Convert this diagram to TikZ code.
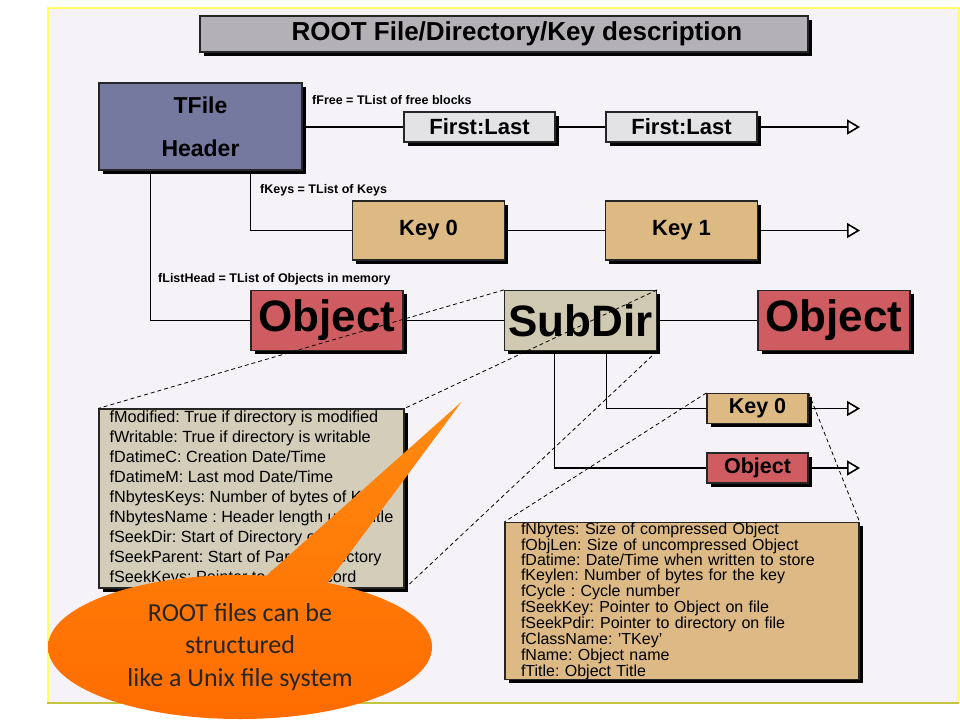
\documentclass[tikz,border=0pt]{standalone}
\usepackage{fontspec}
\setmainfont{Liberation Sans}
\newfontfamily\calloutfont{Carlito}
\frenchspacing
\usetikzlibrary{arrows.meta}
\usetikzlibrary{shadows}

\definecolor{slidebg}{HTML}{F5F3F7}
\definecolor{slideedge}{HTML}{FFFF66}
\definecolor{slidefoot}{HTML}{C4C440}
\definecolor{titlegray}{HTML}{B4B1B6}
\definecolor{filecolor}{HTML}{7579A0}
\definecolor{freecolor}{HTML}{E3E3E5}
\definecolor{keycolor}{HTML}{DDBA84}
\definecolor{objcolor}{HTML}{CE5C61}
\definecolor{dircolor}{HTML}{D1CAB3}
\definecolor{dirinfocolor}{HTML}{D3CDBA}
\definecolor{keyinfocolor}{HTML}{DCB985}
\definecolor{calloutA}{HTML}{FF8A10}
\definecolor{calloutB}{HTML}{FF6C00}

\tikzset{
  box/.style={draw=black!85, line width=1.2pt, inner sep=0pt,
    drop shadow={shadow xshift=3.5pt, shadow yshift=-3.5pt, opacity=1, fill=black}},
  freebox/.style={box, fill=freecolor, minimum width=151pt, minimum height=30pt,
    font=\bfseries\fontsize{22}{26}\selectfont},
  keybox/.style={box, fill=keycolor, minimum width=152pt, minimum height=59pt,
    font=\bfseries\fontsize{22}{26}\selectfont},
  bigbox/.style={box, minimum width=152pt, minimum height=60pt,
    font=\bfseries\fontsize{44}{48}\selectfont},
  smallbox/.style={box, minimum width=101pt, minimum height=30pt,
    font=\bfseries\fontsize{21.5}{24}\selectfont},
  infobox/.style={box, align=left},
  tag/.style={anchor=west, inner sep=0pt, font=\bfseries\fontsize{12.5}{14}\selectfont},
  link/.style={line width=1.6pt},
  tail/.style={link, -{Triangle[length=13pt,width=15pt,fill=white]}},
  zoomline/.style={line width=0.8pt, dash pattern=on 4pt off 3pt},
}

\begin{document}
\begin{tikzpicture}[x=1pt,y=-1pt]
  \useasboundingbox (0,0) rectangle (960,720);
  \fill[white] (0,0) rectangle (960,720);
  \filldraw[fill=slidebg, draw=slideedge, line width=2pt] (48,8) rectangle (958,703);
  \draw[slidefoot, line width=2.5pt] (47,703) -- (959,703);

  \node[box, fill=titlegray, minimum width=608pt, minimum height=36pt,
    font=\bfseries\fontsize{26}{30}\selectfont] (title) at (504,34)
    {\hspace*{26pt}ROOT File/Directory/Key description};

  \node[box, fill=filecolor, minimum width=203pt, minimum height=87pt, align=center,
    font=\bfseries\fontsize{23}{43}\selectfont] (tfile) at (200.5,126.5) {TFile\\Header};

  \node[freebox] (free1) at (479.5,127) {First:Last};
  \node[freebox] (free2) at (681.5,127) {First:Last};
  \node[keybox] (key0) at (428.5,230.5) {Key 0};
  \node[keybox] (key1) at (681.5,230.5) {Key 1};
  \node[bigbox, fill=objcolor] (obj) at (327,320.5) {Object};
  \node[bigbox, fill=dircolor] (subdir) at (580.5,320.5) {SubDir};
  \node[bigbox, fill=objcolor] (obj2) at (834,320.5) {Object};
  \node[smallbox, fill=keycolor] (skey) at (757.5,408.5) {Key 0};
  \node[smallbox, fill=objcolor] (sobj) at (757.5,468) {Object};

  \node[tag] (freetag) at (312,100) {fFree = TList of free blocks};
  \node[tag] (keystag) at (260,190) {fKeys = TList of Keys};
  \node[tag] (listtag) at (158,279) {fListHead = TList of Objects in memory};

  \coordinate (freeend) at (860,127);
  \coordinate (keyend) at (860,230.5);
  \coordinate (skeyend) at (860,408.5);
  \coordinate (sobjend) at (860,468);

  \draw[link] (tfile.east |- free1.west) -- (free1.west);
  \draw[link] (free1) -- (free2);
  \draw[tail] (free2) -- (freeend);
  \draw[link] ([xshift=50pt]tfile.south) |- (key0.west);
  \draw[link] (key0) -- (key1);
  \draw[tail] (key1) -- (keyend);
  \draw[link] ([xshift=-50pt]tfile.south) |- (obj.west);
  \draw[link] (obj) -- (subdir);
  \draw[link] (subdir) -- (obj2);
  \draw[link] ([xshift=26pt]subdir.south) |- (skey.west);
  \draw[link] ([xshift=-26pt]subdir.south) |- (sobj.west);
  \draw[tail] (skey) -- (skeyend);
  \draw[tail] (sobj) -- (sobjend);

  \node[infobox, fill=dirinfocolor, minimum width=305pt, minimum height=179pt,
    font=\fontsize{16.2}{20}\selectfont] (dirinfo) at (251.5,498.5)
    {fModified: True if directory is modified\\
     fWritable: True if directory is writable\\
     fDatimeC: Creation Date/Time\\
     fDatimeM: Last mod Date/Time\\
     fNbytesKeys: Number of bytes of Keys\\
     fNbytesName : Header length up to title\\
     fSeekDir: Start of Directory on file\\
     fSeekParent: Start of Parent Directory\\
     fSeekKeys: Pointer to Keys record};

  \node[infobox, fill=keyinfocolor, minimum width=354pt, minimum height=148pt,
    text width=322pt, font=\fontsize{16}{14.8}\selectfont] (keyinfo) at (682,601)
    {fNbytes: Size of compressed Object\\
     fObjLen: Size of uncompressed Object\\
     fDatime: Date/Time when written to store\\
     fKeylen: Number of bytes for the key\\
     fCycle : Cycle number\\
     fSeekKey: Pointer to Object on file\\
     fSeekPdir: Pointer to directory on file\\
     fClassName: 'TKey'\\
     fName: Object name\\
     fTitle: Object Title};

  \draw[zoomline] (subdir.north west) -- (dirinfo.north west);
  \draw[zoomline] (subdir.north east) -- (dirinfo.north east);
  \draw[zoomline] (subdir.south east) -- (dirinfo.south east);
  \draw[zoomline] (skey.north west) -- (keyinfo.north west);
  \draw[zoomline] (skey.north east) -- (keyinfo.north east);

  % callout bubble
  \shade[top color=calloutA, bottom color=calloutB]
    (240,647) ellipse [x radius=192, y radius=72]
    (239,600) -- (461.7,401.7) -- (315,600) -- cycle;
  \node[align=center, text=black!85, inner sep=0pt,
    font=\calloutfont\fontsize{26}{32.5}\selectfont] (note) at (240,647)
    {ROOT files can be\\structured\\like a Unix file system};
\end{tikzpicture}
\end{document}
